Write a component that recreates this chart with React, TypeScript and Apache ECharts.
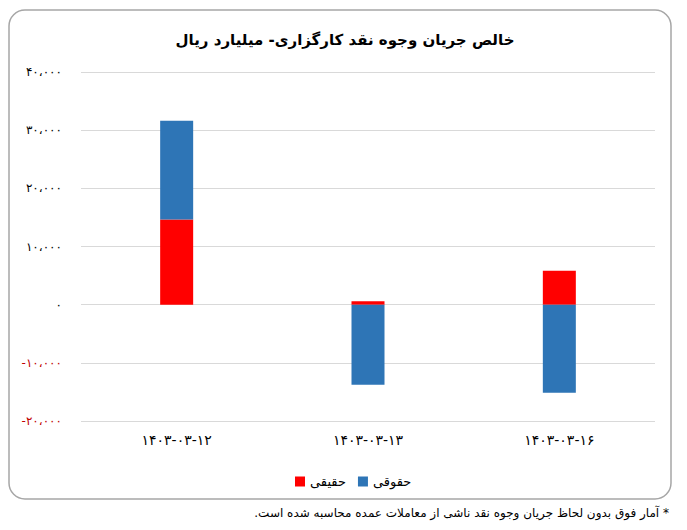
import React, { useEffect, useRef } from "react";
import * as echarts from "echarts";

const titleText = "خالص جریان وجوه نقد کارگزاری- میلیارد ریال";
const footnote = "\u200F* آمار فوق بدون لحاظ جریان وجوه نقد ناشی از معاملات عمده محاسبه شده است.\u200F";
const categories = ["۱۴۰۳-۰۳-۱۲", "۱۴۰۳-۰۳-۱۳", "۱۴۰۳-۰۳-۱۶"];
const seriesNames = ["حقیقی", "حقوقی"];
const haghighi = [14650, 600, 5850];
const hoghoghi = [16950, -13750, -15150];
const yMin = -20000;
const yMax = 40000;
const yStep = 10000;

const faDigits = "۰۱۲۳۴۵۶۷۸۹";
function toFa(v: number): string {
  const neg = v < 0;
  const s = Math.abs(v)
    .toString()
    .replace(/\B(?=(\d{3})+(?!\d))/g, "،")
    .replace(/\d/g, (d) => faDigits[Number(d)]);
  return (neg ? "-" : "") + s;
}

const FONT = "DejaVu Sans";

export default function App() {
  const ref = useRef<HTMLDivElement>(null);
  useEffect(() => {
    if (!ref.current) return;
    const chart = echarts.init(ref.current, null, { renderer: "svg" });
    chart.setOption({
      animation: false,
      backgroundColor: "#ffffff",
      textStyle: { fontFamily: FONT },
      graphic: [
        {
          type: "rect",
          z: -10,
          silent: true,
          shape: { x: 9, y: 10, width: 662, height: 489, r: 16 },
          style: { fill: "#ffffff", stroke: "#a6a6a6", lineWidth: 1.5 },
        },
        {
          type: "text",
          right: 18,
          top: 507,
          style: {
            text: footnote,
            fontFamily: FONT,
            fontSize: 12,
            fill: "#000000",
          },
        },
      ],
      title: {
        text: titleText,
        left: 340,
        textAlign: "center",
        top: 27,
        textStyle: {
          fontFamily: FONT,
          fontSize: 15,
          fontWeight: "bold",
          color: "#000000",
        },
      },
      legend: {
        data: seriesNames,
        left: 290,
        top: 470,
        itemWidth: 10,
        itemHeight: 10,
        itemGap: 12,
        icon: "rect",
        textStyle: { fontFamily: FONT, fontSize: 13, color: "#000000" },
      },
      grid: { left: 81, right: 32, top: 72, bottom: 109 },
      xAxis: {
        type: "category",
        data: categories,
        axisLine: { show: false, onZero: false },
        axisTick: { show: false },
        axisLabel: {
          margin: 12,
          fontFamily: FONT,
          fontSize: 14,
          color: "#000000",
        },
      },
      yAxis: {
        type: "value",
        min: yMin,
        max: yMax,
        interval: yStep,
        axisLine: { show: false },
        axisTick: { show: false },
        splitLine: { lineStyle: { color: "#d9d9d9", width: 1 } },
        axisLabel: {
          margin: 19,
          fontFamily: FONT,
          fontSize: 12,
          formatter: (v: number) => (v < 0 ? "{neg|" + toFa(v) + "}" : "{pos|" + toFa(v) + "}"),
          rich: {
            pos: { color: "#000000", fontFamily: FONT, fontSize: 12 },
            neg: { color: "#c00000", fontFamily: FONT, fontSize: 12 },
          },
        },
      },
      series: [
        {
          name: seriesNames[0],
          type: "bar",
          stack: "total",
          barWidth: 33,
          data: haghighi,
          itemStyle: { color: "#ff0000" },
        },
        {
          name: seriesNames[1],
          type: "bar",
          stack: "total",
          barWidth: 33,
          data: hoghoghi,
          itemStyle: { color: "#2e75b6" },
        },
      ],
    });
    return () => chart.dispose();
  }, []);
  return (
    <div
      ref={ref}
      style={{ position: "fixed", left: 0, top: 0, width: 687, height: 530 }}
    />
  );
}
